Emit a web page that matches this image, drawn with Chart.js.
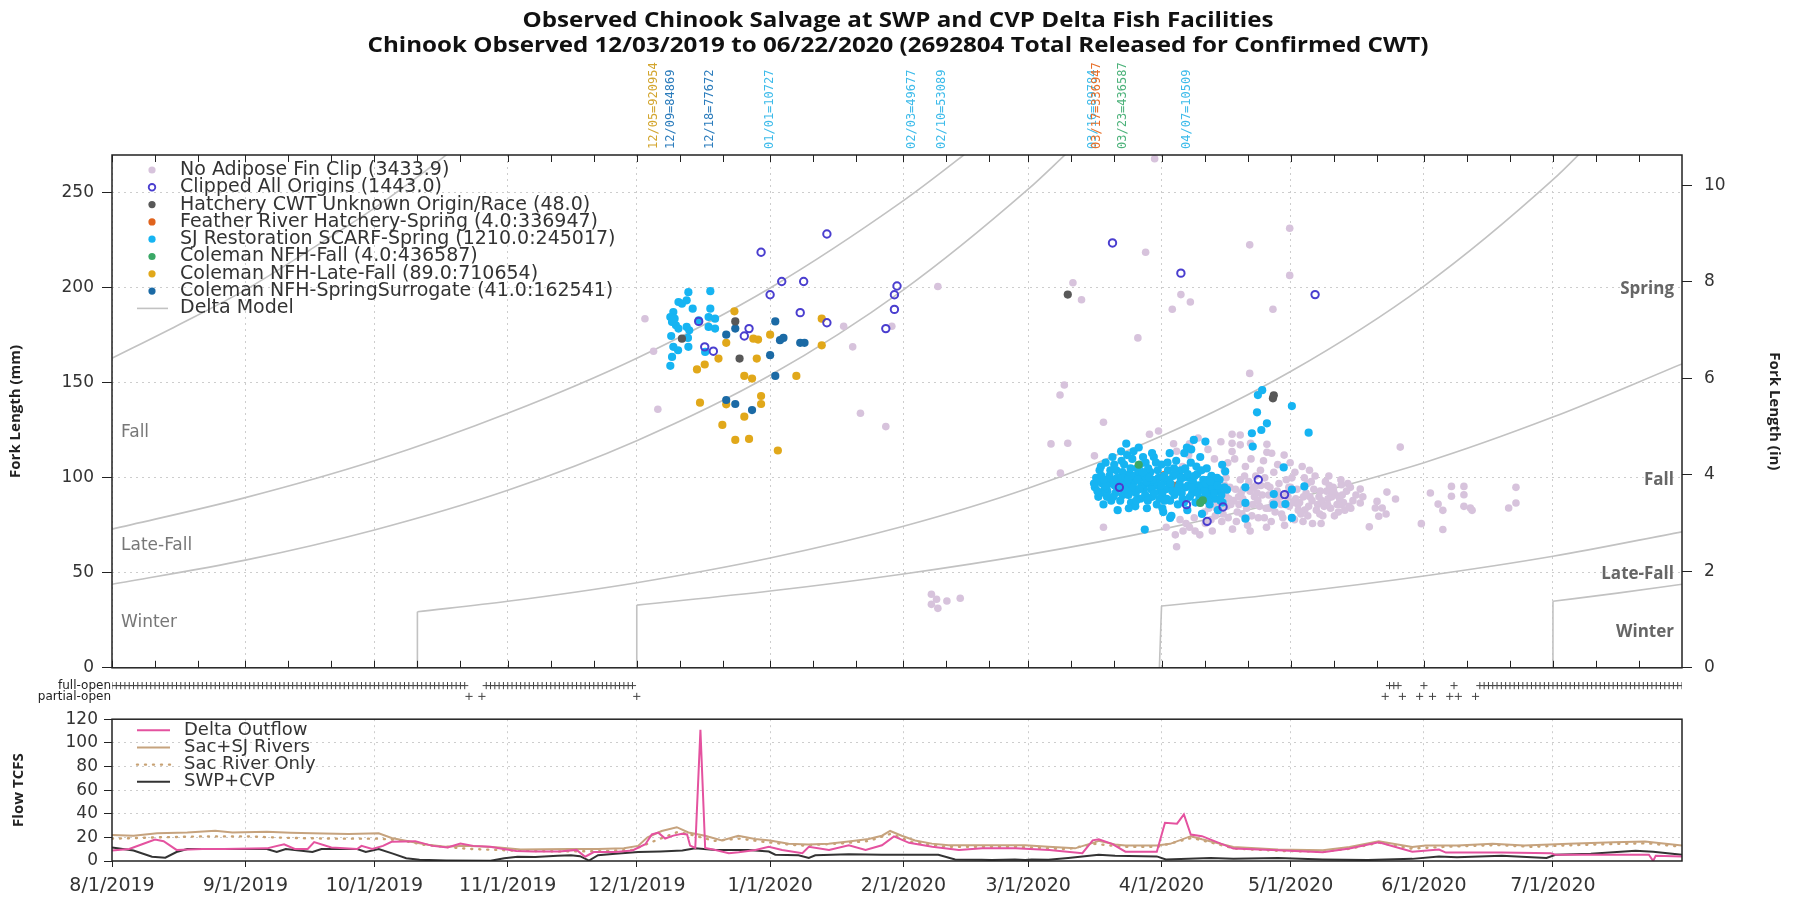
<!DOCTYPE html>
<html>
<head>
<meta charset="utf-8">
<title>Observed Chinook Salvage at SWP and CVP Delta Fish Facilities</title>
<script src="https://cdn.jsdelivr.net/npm/chart.js@4.4.1/dist/chart.umd.min.js"></script>
<style>
  html, body { margin: 0; padding: 0; background: #fff; }
  #page { position: relative; width: 1800px; height: 901px; overflow: hidden; }
  #page canvas { position: absolute; left: 0; }
</style>
</head>
<body>
<div id="page">
  <canvas id="salvage" width="1800" height="690" style="top:0"></canvas>
  <canvas id="gates" width="1800" height="38" style="top:672px"></canvas>
  <canvas id="flow" width="1800" height="198" style="top:703px"></canvas>
</div>
<script>
// x everywhere = days since 8/1/2019
const monthStarts = [0, 31, 61, 92, 122, 153, 184, 213, 244, 274, 305, 335];
const monthLabels = ['8/1/2019', '9/1/2019', '10/1/2019', '11/1/2019', '12/1/2019', '1/1/2020',
                     '2/1/2020', '3/1/2020', '4/1/2020', '5/1/2020', '6/1/2020', '7/1/2020'];
const mmTicks = [0, 50, 100, 150, 200, 250];
const inchTicks = [0, 2, 4, 6, 8, 10];
const flowTicks = [0, 20, 40, 60, 80, 100, 120];

const titleLines = [
  'Observed Chinook Salvage at SWP and CVP Delta Fish Facilities',
  'Chinook Observed 12/03/2019 to 06/22/2020 (2692804 Total Released for Confirmed CWT)'
];

// CWT release dates (day, label text, colour of the release group)
const releaseDays = [126, 130, 139, 153, 186, 193, 228, 229, 235, 250];
const releaseText = ['12/05=920954', '12/09=84869', '12/18=77672', '01/01=10727', '02/03=49677',
                     '02/10=53089', '03/16=89784', '03/17=336947', '03/23=436587', '04/07=10509'];
const releaseColors = ['#d3a52e', '#2b7cbc', '#2b7cbc', '#3dbbea', '#3dbbea',
                       '#3dbbea', '#3dbbea', '#e8702a', '#4cb27a', '#3dbbea'];

// salvaged fish: [day, fork length mm]
const noAdipose = [
  [123.9,183.8],[125.9,166.7],[126.9,136.1],[170.1,179.8],[172.2,169.0],[174.0,134.0],[179.9,127.0],[181.3,179.8],[192.0,200.8],
  [190.5,38.7],[191.7,36.1],[194.1,35.2],[197.2,36.6],[190.5,33.4],[192.0,31.3],
  [242.4,268],[273.8,231.4],[264.5,222.7],[240.3,218.8],[273.8,206.6],[223.4,202.7],[225.4,193.8],[248.5,196.5],[250.7,192.6],
  [246.5,188.8],[269.9,188.8],[238.5,173.7],[264.5,155.0],[221.4,148.9],[220.4,143.6],[230.5,129.3],[218.3,117.9],[222.2,118.2],
  [220.5,102.5],[228.4,111.6],[230.5,74.0],[247.5,63.7],
  [241.2,123.0],[243.3,124.7],[260.4,123.0],[262.3,122.6],[260.4,118.2],[262.3,117.4],[264.7,118.2],[260.4,113.9],[268.5,117.7],[268.5,113.5],
  [250.5,118],[252.5,121],[254.8,115],[256.3,110],[257.8,119],
  [253.5,88],[254.2,76],[255.0,84],[255.8,72],[256.5,80],[257.3,90],[258.0,77],[258.6,104],[259.2,85],[259.9,95],[260.5,73],[261.0,110],
  [261.6,82],[262.3,99],[262.9,89],[263.5,106],[264.0,75],[264.6,93],[265.2,86],[265.9,101],[266.5,79],[267.1,96],[267.7,109],[268.3,84],
  [268.9,91],[269.5,77],[270.1,103],[270.7,88],[271.3,97],[271.9,81],[272.5,112],[273.1,92],[273.7,85],[274.3,100],[274.9,78],[275.5,94],
  [276.1,87],[276.7,106],[277.3,83],[277.9,97],[278.5,90],[279.1,76],[279.7,101],[280.3,86],[280.9,93],[281.5,80],[282.1,98],[282.7,89],
  [283.3,84],[283.9,95],[284.5,91],[285.1,82],[285.7,99],[286.3,87],[287.0,93],[287.6,85],
  [256.0,92],[257.8,83],[259.5,79],[261.2,94],[262.7,81],[264.3,98],[265.6,90],[266.8,85],[268.0,100],[269.2,95],[270.4,82],[271.6,90],
  [272.8,86],[274.0,95],[275.2,89],[276.4,81],[277.6,92],[278.8,98],[280.0,83],[281.2,88],[282.4,93],[283.6,90],[284.8,86],[262.0,86],
  [263.0,94],[266.0,96],[267.4,91],[269.8,87],[273.4,90],[278.2,85],[260.8,88],[258.9,91],[255.4,96],[254.6,93],[250.5,74],[251.8,72],
  [249.7,76],[252.9,70],[248.9,106],[250.3,112],[247.5,114],[246.8,118],[285.8,96.4],[285.8,85.9],[283.4,90.3],
  [254.0,82],[255.5,78],[257.0,87],[258.3,81],[259.7,89],[261.4,77],[262.5,92],[263.8,84],[265.0,80],[266.2,92],[267.9,79],[269.0,84],
  [270.9,93],[272.2,79],[273.0,99],[274.6,87],[275.8,83],[277.0,90],[278.0,80],[279.4,94],[280.6,90],[281.8,85],[283.0,96],[284.2,80],
  [285.4,89],[286.6,83],[287.3,97],[288.5,88],[289.2,91],[259.0,100],[263.3,101],[267.0,104],[271.0,107],[275.0,103],
  [256.8,84],[258.7,96],[260.1,86],[261.9,90],[263.7,79],[265.4,95],[266.4,88],[268.6,96],[270.2,91],[271.8,86],[273.6,95],[275.7,86],
  [277.2,100],[279.0,88],[280.8,81],[282.6,86],[284.0,93],[286.0,91],[288.0,84],[290.8,90],[259.4,108],[264.8,110],[269.6,113],
  [273.9,108],[278.4,104],[282.9,101],[287.9,95],[264.6,72],[268.4,74],[272.6,75],[276.9,77],[281.1,76],
  [245.1,74],[247.2,70],[248.3,78],[251.6,79],[249.0,72],
  [290.2,94.1],[290.2,86.8],[296.4,92.5],[298.4,88.9],[294.1,87.6],[295.3,84.1],[296.2,81.0],[294.5,79.8],[293.7,84.1],[292.3,74.2],
  [299.5,116.2],[304.4,75.9],[306.5,92.0],[308.3,86.2],[309.4,82.9],[309.4,72.8],[311.4,95.5],[311.4,90.3],[314.3,95.5],[314.3,91.1],
  [314.3,85.0],[315.8,84.1],[316.2,82.9],[326.4,95.0],[326.4,86.8],[324.7,84.1]
];
const clippedAll = [
  [166.2,228.4],[150.9,218.8],[155.7,203.4],[160.8,203.4],[153.0,196.4],[160.0,187.0],[166.2,181.7],[148.1,178.6],[147.0,174.7],
  [137.8,169.0],[139.8,166.7],[136.4,182.4],[182.5,201.0],[181.9,196.4],[181.9,188.7],[179.9,178.6],[232.6,223.7],[248.5,207.8],
  [279.7,196.5],[234.2,95.0],[266.5,99.0],[272.6,91.2],[249.8,85.9],[258.3,84.7],[254.6,77.1]
];
const hatcheryUnknown = [[144.9,182.4],[145.9,162.8],[132.5,173.3],[222.2,196.5],[269.9,141.9],[270.1,143.5]];
const featherSpring = [[244.6,101.5],[247.3,95.8]];
const sjScarf = [
  [134.0,197.8],[139.1,198.3],[131.7,192.6],[133.6,193.5],[135.0,189.1],[132.5,191.7],[130.5,187.3],[129.8,184.7],[139.1,189.1],
  [130.2,182.1],[131.1,180.3],[136.4,183.0],[138.7,184.7],[140.2,183.8],[131.7,178.6],[133.6,179.5],[134.2,177.7],[138.7,179.5],
  [140.2,178.6],[130.0,174.7],[133.9,173.7],[130.5,169.0],[131.6,167.2],[134.0,169.0],[137.9,166.3],[130.2,163.7],[129.8,159.0],[130.8,183.8],
  [267.4,146.2],[266.4,143.6],[274.3,137.8],[266.2,134.5],[268.5,128.7],[267.2,125.2],[265.0,123.5],[278.2,123.8],[265.2,116.5],
  [254.2,119.1],[249.9,116.0],[240.1,72.8],[246.0,78.9],[263.5,95.0],[263.5,86.8],[263.5,78.5],[270.1,91.5],[270.1,85.9],[274.3,93.8],
  [277.2,95.5],[272.4,105.5],[272.8,86.2],[274.3,78.9],[258.1,106.9],[258.8,103.4],[259.2,93.8],
  [228.5,95],[228.8,100],[229.3,90],[229.6,104],[230.2,97],[230.5,86],[231.0,108],[231.4,93],[231.9,101],[232.3,88],[232.6,111],
  [233.1,96],[233.5,104],[233.8,83],[234.2,99],[234.6,114],[235.0,91],[235.3,107],[235.8,118],[236.1,95],[236.5,102],[236.9,87],
  [237.2,110],[237.6,98],[238.0,92],[238.3,105],[238.7,116],[239.1,89],[239.5,100],[239.9,94],[240.3,108],[240.6,84],[241.0,97],
  [241.4,103],[241.8,90],[242.2,111],[242.5,96],[242.9,86],[243.3,100],[243.7,93],[244.0,107],[244.4,82],[244.8,98],[245.2,89],
  [245.5,104],[245.9,95],[246.3,80],[246.7,101],[247.0,91],[247.4,109],[247.8,86],
  [248.2,97],[248.5,104],[248.9,89],[249.3,113],[249.6,95],[250.0,83],[250.4,100],[250.8,108],[251.1,92],[251.5,120],[251.9,87],
  [252.3,102],[252.6,96],[253.0,111],[253.4,81],[253.7,99],[254.1,90],[254.5,105],[254.9,94],[255.2,86],[255.6,101],[256.0,97],
  [256.4,89],[256.7,93],[257.1,83],[257.5,99],[257.9,91],[258.2,87],[258.6,95],
  [229.0,98],[230.8,94],[232.0,97],[233.3,92],[234.9,103],[236.3,91],[237.8,101],[239.3,96],[231.6,99],[235.6,98],[238.9,103],
  [240.0,101],[243.0,97],[245.0,94],[250.2,96],[252.0,93],[254.8,99],[246.0,88],[244.2,92],[249.0,100],
  [229.8,92],[230.0,101],[231.2,96],[232.8,90],[233.0,107],[234.0,95],[234.4,88],[235.2,100],[236.0,112],[236.7,97],[237.0,93],
  [237.9,85],[238.5,99],[239.7,111],[240.2,91],[240.9,105],[241.6,94],[242.0,99],[242.7,108],[243.5,89],[244.6,101],[245.7,99],
  [246.5,93],[247.2,102],[247.9,95],[248.7,92],[249.5,105],[250.6,90],[251.3,98],[252.1,106],[252.8,89],[253.2,95],[254.3,97],
  [255.0,91],[255.8,95],[256.9,100],[257.3,94],[236.8,105],[233.7,100],[239.0,107],
  [228.3,97],[229.1,93],[229.9,106],[230.6,99],[231.3,90],[232.1,104],[232.9,99],[233.6,95],[234.7,109],[235.5,94],[236.2,99],
  [237.4,95],[238.1,88],[238.8,94],[239.6,103],[240.5,98],[241.2,100],[242.3,92],[243.1,104],[243.9,96],[244.7,88],[245.4,108],
  [246.1,97],[246.9,105],[247.6,93],[248.4,100],[249.2,87],[250.1,102],[250.9,95],[251.7,101],[252.4,92],[253.3,104],[254.0,93],
  [254.7,88],[255.4,98],[256.2,92],[257.0,96],[257.7,88],[245.9,113],[241.8,113],[237.5,114],[250.9,115],[244.2,84],[240.8,88],[236.4,84]
];
const colemanFall = [[253.0,86.8],[253.6,88.2],[238.7,106.9]];
const colemanLateFall = [
  [144.7,187.7],[165.0,183.8],[142.8,171.1],[149.1,173.3],[150.2,172.8],[153.0,175.4],[165.0,169.8],[141.0,162.8],[149.9,162.8],
  [137.8,159.7],[136.0,157.1],[147.0,153.7],[148.8,152.3],[159.1,153.7],[150.9,143.1],[136.7,139.6],[142.8,138.7],[150.9,138.9],
  [147.0,132.2],[141.9,127.9],[144.9,120.0],[148.1,120.5],[154.8,114.4]
];
const colemanSurrogate = [
  [154.2,182.4],[144.9,178.6],[142.8,175.4],[155.3,172.5],[156.1,173.7],[160.0,171.1],[161.0,171.1],[153.0,164.6],[154.2,153.7],
  [142.8,141.0],[144.9,138.9],[148.8,135.7]
];

// Delta model length-at-date boundaries: [day, mm]
const deltaModel = [
  [[0,163],[15,180],[31,199],[46,220],[61,242],[76,267],[82,278]],
  [[0,73],[31,89.6],[61,109],[92,134],[122,163],[153,200],[184,246],[198,270],[203,279]],
  [[0,44],[31,56.7],[61,72.6],[92,93.5],[122,119.6],[153,154],[184,199],[213,252],[222,271]],
  [[71,29.5],[92,35],[122,44.8],[153,57.8],[184,74.5],[213,94.5],[244,122],[274,156],[305,201],[335,257],[344,277]],
  [[122,33],[153,40.4],[184,49.4],[213,59.6],[244,72.9],[274,88.6],[305,108],[335,132],[365,160]],
  [[244,32.5],[274,39.5],[305,48.3],[335,58.7],[365,71.6]],
  [[335,35],[350,39.3],[365,44]],
  [[71,0],[71,29.5]],
  [[122,0],[122,33]],
  [[243.5,0],[244,32.5]],
  [[335,0],[335,35]]
];

// export facility gate status, by day
const fullOpenDays = [
  0,1,2,3,4,5,6,7,8,9,10,11,12,13,14,15,16,17,18,19,20,21,22,23,24,25,26,27,28,29,30,31,32,33,34,35,36,37,38,39,40,
  41,42,43,44,45,46,47,48,49,50,51,52,53,54,55,56,57,58,59,60,61,62,63,64,65,66,67,68,69,70,71,72,73,74,75,76,77,78,79,80,81,82,
  87,88,89,90,91,92,93,94,95,96,97,98,99,100,101,102,103,104,105,106,107,108,109,110,111,112,113,114,115,116,117,118,119,120,121,
  297,298,299,305,312,
  318,319,320,321,322,323,324,325,326,327,328,329,330,331,332,333,334,335,336,337,338,339,340,341,342,343,344,345,346,347,348,
  349,350,351,352,353,354,355,356,357,358,359,360,361,362,363,364,365
];
const partialOpenDays = [83, 86, 122, 296, 300, 304, 307, 311, 313, 317];

// flows in thousand cfs: [day, TCFS]
const deltaOutflow = [
  [0,8.8],[4,10.2],[7,14.2],[10,18.1],[12,16.8],[15,9.4],[21,10.2],[26,10.2],[36,10.7],[40,14.2],[42.5,10.2],[45.5,10.2],[47,16],
  [51,11.5],[57,10.2],[58,12.8],[60.5,10.2],[63,12.8],[65,16.3],[70.5,16.8],[74.5,12.8],[78,11.5],[81,14.7],[84,12.8],[88,12.1],
  [91,10.2],[94,8.4],[98,8.1],[104,8.1],[108,9.4],[110,3.6],[112,7.6],[117,7.6],[121,8.9],[124,14.2],[125.5,22.5],[127,24],[128.6,19],
  [130.5,21.5],[132.5,23],[133.7,22.5],[134.4,13],[135.6,11],[136.8,111],[137.9,11],[140.3,9.3],[143.4,6.6],[145.7,7.4],[149.6,9.3],
  [152.7,12],[155.8,9.3],[160.5,6.6],[162,12],[166.7,9.3],[171.3,13.3],[175.2,9.3],[179,13.3],[181.8,20.8],[185.3,15.4],[190.7,12],
  [196.9,9.3],[202.3,10.7],[210.1,10.7],[217.9,9.3],[225.6,6.6],[228,17.5],[229.4,18.4],[232.5,14.5],[235.6,7.9],[242.9,7.9],
  [244.8,32.4],[247.6,31.6],[249.2,39.5],[250.8,22.4],[253.4,21],[260.7,10.5],[271.1,9.2],[281.5,7.4],[287.7,10.5],[294.5,15.8],
  [302.3,7.9],[308.5,9.7],[310.1,7.1],[323.1,7.1],[334.5,6.6],[335.6,5.3],[343.8,5.3],[357.3,5.3],[358.3,0],[358.9,4.5],[365,3.9]
];
const sacSjRivers = [
  [0,22.1],[5,21.3],[10.5,23.4],[17.5,24.2],[24,25.6],[28,24.2],[36,24.8],[41.5,24],[46.5,23.4],[55,22.9],[62,23.4],[65,19.5],
  [69.5,16.3],[73.5,13.7],[77.5,12.1],[82,12.8],[86,12.3],[90,11.5],[95,9.7],[100.5,9.9],[106.5,10.2],[113,10.2],[119,10.7],
  [122.3,12.8],[124.5,20],[127.8,25.4],[131.3,28.6],[134,24.1],[137.9,21.4],[141.8,17.4],[145.6,21.4],[149.5,18.7],[153,17.4],
  [157.3,14.7],[161.9,13.9],[166.6,14.7],[171.2,16.6],[175.9,18.7],[179,21.4],[180.9,25.4],[183.6,21.4],[186.7,17.4],[190.6,14.7],
  [194.5,13.3],[198.3,13.3],[206.1,13.3],[212.3,13.3],[217.7,12],[223.9,10.7],[228.6,16],[229.4,17.1],[233.2,14],[235.6,13.2],
  [242.9,13.2],[246,14.5],[250.8,21],[253.4,18.4],[260.7,11.8],[271.1,9.7],[281.5,9.2],[287.7,11.8],[294.5,16.6],[302.3,11.8],
  [305.4,13.2],[312.7,13.2],[321,14.5],[328.3,13.2],[338.7,14.5],[349.1,15.8],[356.4,16.6],[365,13.2]
];
const sacRiverOnly = [
  [0,18.9],[10.5,20],[20.5,20.8],[31,20.8],[41.5,19.5],[52,18.9],[62,18.9],[67.5,17.4],[72.5,13.7],[83,10.2],[93,8.9],[103.5,8.1],
  [114,8.4],[121,9.4],[126.5,17.5],[131.5,24.5],[135,22],[140,17],[146,19],[152,16],[160,13],[170,15],[176,17],[181,23],[186,16],
  [194,12],[210,12],[222,10],[228.5,14.5],[235,12],[243,12],[251,19.5],[254,17],[261,10.5],[272,8.5],[282,8],[288,10.5],
  [294.5,15.5],[302,10.5],[310,12],[322,13.5],[330,12],[340,13.5],[350,14.5],[357,15],[365,12]
];
const swpCvp = [
  [0,11.5],[5,8.9],[9.3,3.6],[12.4,2.8],[15,7.6],[17.5,10.2],[26,10.2],[36,10.2],[38.3,7.6],[40.4,10.2],[46.6,7.6],[48.7,10.2],
  [57,10.2],[59,7.6],[62,10.2],[65.3,6.2],[68.4,2.3],[71.5,1],[77.7,0.4],[88,0.2],[91.2,2.3],[94.3,3.6],[98.4,3.3],[103.6,4.4],
  [106.7,4.9],[108.8,4.1],[110.9,0.4],[113,4.9],[117,6.2],[122.3,7.6],[127.5,8.1],[132.6,8.9],[135.6,10.7],[140.3,9.3],[148,9.3],
  [152.7,8],[154.2,5.3],[159.6,4.8],[162,2.6],[163.5,4.8],[171.3,5.8],[179,5.3],[186.7,5.3],[192.1,5.3],[196,1.3],[202.2,1],
  [204.5,0.8],[209.9,1.3],[212.3,0.8],[213.8,1.3],[217.7,1],[222.3,2.6],[229.4,5.3],[233.2,4.5],[242.9,3.9],[245,1.3],[255.4,2.6],
  [260.7,1.8],[271.1,2.6],[281.5,1.3],[291.9,0.8],[302.3,1.8],[308.5,3.9],[312.7,3.2],[323.1,4.5],[333.5,2.6],[335.6,5.3],
  [343.8,6.1],[354.2,8.7],[358.3,7.9],[365,5.3]
];

const FONT = "'DejaVu Sans', sans-serif";
const HEAD = "'Open Sans', 'DejaVu Sans', sans-serif";
const GRID = '#cdcdcd';
const INK = '#222';
const pts = arr => arr.map(([x, y]) => ({ x, y }));

function dot(label, data, color, order, r = 4.1) {
  return { label, data: pts(data), order,
    pointRadius: r, pointHoverRadius: r, pointBorderWidth: 0,
    pointBackgroundColor: color, pointBorderColor: color, backgroundColor: color, borderColor: color };
}
function ring(label, data, color, order) {
  return { label, data: pts(data), order, hollow: true,
    pointRadius: 3.7, pointHoverRadius: 3.7, pointBorderWidth: 2,
    pointBackgroundColor: 'rgba(0,0,0,0)', pointBorderColor: color, backgroundColor: 'rgba(0,0,0,0)', borderColor: color };
}

// fixed axis box sizes keep the three panels on one x range
const leftBox = s => { s.width = 112; };
const rightBox = s => { s.width = 118; };
const monthTicks = s => { s.ticks = monthStarts.map(v => ({ value: v })); };
const tickDays = [];
monthStarts.forEach(m => tickDays.push(m, m + 10, m + 20));

// title, release labels, band names, legend, frame
const salvageDecor = {
  id: 'salvageDecor',
  afterDatasetsDraw(chart) {
    const { ctx, chartArea: a, scales: { x, y } } = chart;
    ctx.save();
    ctx.strokeStyle = INK;
    ctx.lineWidth = 1.5;
    ctx.strokeRect(a.left, a.top, a.right - a.left, a.bottom - a.top);
    ctx.lineWidth = 1;
    tickDays.forEach(d => {
      const px = Math.round(x.getPixelForValue(d)) + 0.5;
      ctx.beginPath();
      ctx.moveTo(px, a.top); ctx.lineTo(px, a.top + 7);
      ctx.moveTo(px, a.bottom); ctx.lineTo(px, a.bottom - 7);
      ctx.stroke();
    });

    // title, slightly widened
    ctx.fillStyle = '#111';
    ctx.textAlign = 'center';
    ctx.textBaseline = 'middle';
    ctx.font = 'bold 21px ' + HEAD;
    ctx.save();
    ctx.translate(898, 0);
    ctx.scale(1.15, 1);
    ctx.fillText(titleLines[0], 0, 21);
    ctx.fillText(titleLines[1], 0, 46);
    ctx.restore();

    ctx.font = "12px 'DejaVu Sans Mono', monospace";
    ctx.textAlign = 'left';
    releaseDays.forEach((d, i) => {
      ctx.save();
      ctx.translate(x.getPixelForValue(d), 149);
      ctx.rotate(-Math.PI / 2);
      ctx.fillStyle = releaseColors[i];
      ctx.fillText(releaseText[i], 0, 0);
      ctx.restore();
    });

    ctx.fillStyle = '#777';
    ctx.font = '17px ' + FONT;
    ctx.textAlign = 'left';
    [['Fall', 123.6], ['Late-Fall', 64.2], ['Winter', 23.7]].forEach(([t, v]) =>
      ctx.fillText(t, a.left + 9, y.getPixelForValue(v)));
    ctx.fillStyle = '#666';
    ctx.font = 'bold 17px ' + HEAD;
    ctx.textAlign = 'right';
    [['Spring', 199.4], ['Fall', 99], ['Late-Fall', 49.4], ['Winter', 18.9]].forEach(([t, v]) =>
      ctx.fillText(t, a.right - 8, y.getPixelForValue(v)));

    // legend
    ctx.font = '19px ' + FONT;
    ctx.textAlign = 'left';
    let row = 0;
    chart.data.datasets.forEach(ds => {
      if (ds.skipLegend) return;
      const ly = 170 + row * 17.3;
      if (ds.type === 'line') {
        ctx.strokeStyle = ds.borderColor;
        ctx.lineWidth = 1.6;
        ctx.beginPath(); ctx.moveTo(137, ly); ctx.lineTo(168, ly); ctx.stroke();
      } else if (ds.hollow) {
        ctx.strokeStyle = ds.pointBorderColor;
        ctx.lineWidth = 1.8;
        ctx.beginPath(); ctx.arc(152, ly, 3.3, 0, Math.PI * 2); ctx.stroke();
      } else {
        ctx.fillStyle = ds.pointBackgroundColor;
        ctx.beginPath(); ctx.arc(152, ly, 3.6, 0, Math.PI * 2); ctx.fill();
      }
      ctx.fillStyle = '#333';
      ctx.fillText(ds.label, 180, ly);
      row++;
    });
    ctx.restore();
  }
};

new Chart(document.getElementById('salvage'), {
  type: 'scatter',
  data: {
    datasets: [
      dot('No Adipose Fin Clip (3433.9)', noAdipose, '#d7c3dc', 40, 3.8),
      ring('Clipped All Origins (1443.0)', clippedAll, '#4a3ecf', 10),
      dot('Hatchery CWT Unknown Origin/Race (48.0)', hatcheryUnknown, '#585858', 20),
      dot('Feather River Hatchery-Spring (4.0:336947)', featherSpring, '#e0631d', 35),
      dot('SJ Restoration SCARF-Spring (1210.0:245017)', sjScarf, '#16b4f2', 30),
      dot('Coleman NFH-Fall (4.0:436587)', colemanFall, '#3aa866', 25),
      dot('Coleman NFH-Late-Fall (89.0:710654)', colemanLateFall, '#e1a81a', 22),
      dot('Coleman NFH-SpringSurrogate (41.0:162541)', colemanSurrogate, '#1b6aa5', 21),
      ...deltaModel.map((seg, i) => ({
        type: 'line', label: 'Delta Model', data: pts(seg), skipLegend: i > 0,
        borderColor: '#c2c2c2', borderWidth: 1.6, pointRadius: 0, pointHoverRadius: 0,
        cubicInterpolationMode: 'monotone', order: 50
      }))
    ]
  },
  options: {
    responsive: false, animation: false, devicePixelRatio: 1,
    layout: { padding: { top: 155, bottom: 0, left: 0, right: 0 } },
    plugins: { legend: { display: false }, tooltip: { enabled: false } },
    scales: {
      x: {
        type: 'linear', min: 0, max: 365,
        afterBuildTicks: monthTicks,
        ticks: { display: false },
        grid: { color: GRID, drawTicks: false },
        border: { display: false, dash: [2, 4] },
        afterFit: s => { s.height = 0; }
      },
      y: {
        position: 'left', min: 0, max: 270,
        afterBuildTicks: s => { s.ticks = mmTicks.map(v => ({ value: v })); },
        ticks: { font: { family: FONT, size: 17 }, color: '#333', padding: 8 },
        grid: { color: c => (c.tick && c.tick.value === 0 ? 'rgba(0,0,0,0)' : GRID),
                tickColor: INK, tickLength: 10, tickBorderDash: [] },
        border: { display: false, dash: [2, 4] },
        title: { display: true, text: 'Fork Length (mm)', color: INK,
                 font: { family: HEAD, size: 15, weight: 'bold' }, padding: { top: 7, bottom: 0 } },
        afterFit: leftBox
      },
      y2: {
        position: 'right', min: 0, max: 270 / 25.4,
        afterBuildTicks: s => { s.ticks = inchTicks.map(v => ({ value: v })); },
        ticks: { font: { family: FONT, size: 17 }, color: '#333', padding: 12 },
        grid: { drawOnChartArea: false, tickColor: INK, tickLength: 10 },
        border: { display: false },
        title: { display: true, text: 'Fork Length (in)', color: INK,
                 font: { family: HEAD, size: 15, weight: 'bold' }, padding: { top: 17, bottom: 0 } },
        afterFit: rightBox
      }
    }
  },
  plugins: [salvageDecor]
});

// gate status strip
new Chart(document.getElementById('gates'), {
  type: 'scatter',
  data: {
    datasets: [
      { data: fullOpenDays.map(d => ({ x: d, y: 'full-open' })), pointStyle: 'cross',
        pointRadius: 3.6, pointBorderColor: '#444', pointBorderWidth: 1 },
      { data: partialOpenDays.map(d => ({ x: d, y: 'partial-open' })), pointStyle: 'cross',
        pointRadius: 3.6, pointBorderColor: '#444', pointBorderWidth: 1 }
    ]
  },
  options: {
    responsive: false, animation: false, devicePixelRatio: 1,
    layout: { padding: { top: 0, bottom: 0, left: 0, right: 118 } },
    plugins: { legend: { display: false }, tooltip: { enabled: false } },
    scales: {
      x: { type: 'linear', min: 0, max: 365, display: false },
      y: {
        type: 'category', labels: ['full-open', 'partial-open'], offset: true,
        ticks: { font: { family: FONT, size: 12 }, color: INK, padding: 1, autoSkip: false },
        grid: { display: false, drawTicks: false },
        border: { display: false },
        afterFit: leftBox
      }
    }
  }
});

// flow panel frame and legend
const flowDecor = {
  id: 'flowDecor',
  afterDatasetsDraw(chart) {
    const { ctx, chartArea: a } = chart;
    ctx.save();
    ctx.strokeStyle = INK;
    ctx.lineWidth = 1.5;
    ctx.strokeRect(a.left, a.top, a.right - a.left, a.bottom - a.top);
    ctx.font = '18px ' + FONT;
    ctx.textBaseline = 'middle';
    chart.data.datasets.forEach((ds, i) => {
      const ly = a.top + 11 + i * 17.2;
      ctx.strokeStyle = ds.borderColor;
      ctx.lineWidth = ds.borderWidth;
      ctx.lineCap = ds.borderDash.length ? 'round' : 'butt';
      ctx.setLineDash(ds.borderDash);
      ctx.beginPath(); ctx.moveTo(137, ly); ctx.lineTo(170, ly); ctx.stroke();
      ctx.setLineDash([]);
      ctx.fillStyle = '#333';
      ctx.fillText(ds.label, 184, ly);
    });
    ctx.restore();
  }
};

const flowLine = (label, data, color, width, dash, order) => ({
  label, data: pts(data), borderColor: color, borderWidth: width, borderDash: dash,
  borderCapStyle: dash.length ? 'round' : 'butt', pointRadius: 0, pointHoverRadius: 0, tension: 0, order
});

new Chart(document.getElementById('flow'), {
  type: 'line',
  data: {
    datasets: [
      flowLine('Delta Outflow', deltaOutflow, '#e4529f', 2, [], 1),
      flowLine('Sac+SJ Rivers', sacSjRivers, '#c6a37e', 2, [], 3),
      flowLine('Sac River Only', sacRiverOnly, '#c8a274', 2.4, [1, 7], 4),
      flowLine('SWP+CVP', swpCvp, '#333333', 2, [], 2)
    ]
  },
  options: {
    responsive: false, animation: false, devicePixelRatio: 1,
    layout: { padding: { top: 10, bottom: 0, left: 0, right: 0 } },
    plugins: { legend: { display: false }, tooltip: { enabled: false } },
    scales: {
      x: {
        type: 'linear', min: 0, max: 365,
        afterBuildTicks: monthTicks,
        ticks: { font: { family: FONT, size: 19 }, color: '#333', maxRotation: 0, autoSkip: false, padding: 8,
                 callback: v => monthLabels[monthStarts.indexOf(v)] },
        grid: { color: c => (c.tick && c.tick.value === 0 ? 'rgba(0,0,0,0)' : GRID),
                tickColor: INK, tickLength: 6, tickBorderDash: [] },
        border: { display: false, dash: [2, 4] },
        afterFit: s => { s.height = 40; }
      },
      y: {
        position: 'left', min: 0, max: 120,
        afterBuildTicks: s => { s.ticks = flowTicks.map(v => ({ value: v })); },
        ticks: { font: { family: FONT, size: 17 }, color: '#333', padding: 6 },
        grid: { color: c => (c.tick && (c.tick.value === 0 || c.tick.value === 120) ? 'rgba(0,0,0,0)' : GRID),
                tickColor: INK, tickLength: 8, tickBorderDash: [] },
        border: { display: false, dash: [2, 4] },
        title: { display: true, text: 'Flow TCFS', color: INK,
                 font: { family: HEAD, size: 15, weight: 'bold' }, padding: { top: 10, bottom: 0 } },
        afterFit: leftBox
      },
      y2: {
        position: 'right', min: 0, max: 120, display: true,
        ticks: { display: false }, grid: { display: false }, border: { display: false },
        afterFit: rightBox
      }
    }
  },
  plugins: [flowDecor]
});
</script>
</body>
</html>
